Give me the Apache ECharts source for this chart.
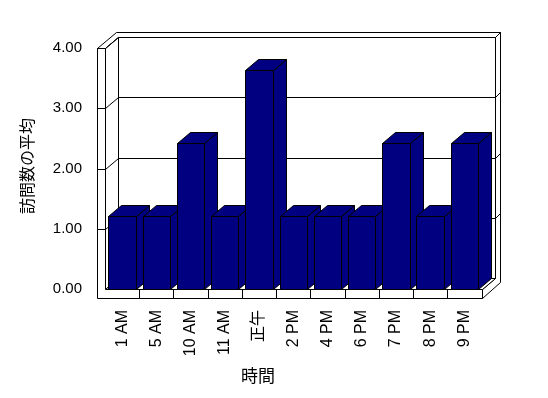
<!DOCTYPE html>
<html><head><meta charset="utf-8">
<script src="https://cdn.jsdelivr.net/npm/echarts@6/dist/echarts.min.js"></script>
<style>html,body{margin:0;padding:0;background:#fff}#c{width:548px;height:398px}</style>
</head><body><div id="c"></div>
<script>
const categories = ['1 AM','5 AM','10 AM','11 AM','正午','2 PM','4 PM','6 PM','7 PM','8 PM','9 PM'];
const values = [1.21,1.21,2.43,1.21,3.64,1.21,1.21,1.21,2.43,1.21,2.43];
const yTicks = [0,1,2,3,4];
const yTitle = '訪問数の平均';
const xTitle = '時間';

const DX = 13, DY = -11;      // depth projection
const W = 8, H = 9, TZ = 0.45; // wall thickness, floor thickness, back wall depth
const FONT = '"Liberation Sans", "Noto Sans CJK JP", sans-serif';
const BAR = '#000080';

function crisp(p){ return [Math.round(p[0]) + 0.5, Math.round(p[1]) + 0.5]; }
function proj(x, y, z){ return [x + z*DX, y + z*DY]; }
function face(pts, fill, z2){
  return {type:'polygon', z2: z2 || 0, shape:{points: pts.map(crisp)},
    style:{fill: fill || '#fff', stroke:'#000', lineWidth:1}};
}
function seg(a, b, z2){
  a = crisp(a); b = crisp(b);
  return {type:'line', z2: z2 || 0, shape:{x1:a[0], y1:a[1], x2:b[0], y2:b[1]},
    style:{stroke:'#000', lineWidth:1}};
}

function renderFrame(params, api){
  const cs = params.coordSys;
  const gx = cs.x, gr = cs.x + cs.width, gt = cs.y, gb = cs.y + cs.height;
  const band = api.size([1,0])[0];
  const ch = [];
  ch.push(face([proj(gx,gt,1), proj(gr,gt,1), proj(gr,gb,1), proj(gx,gb,1)], '#fff', 1));
  ch.push(face([proj(gx-W,gt,0), proj(gx,gt,0), proj(gx,gt,1), proj(gr,gt,1), proj(gr,gt,1+TZ), proj(gx-W,gt,1+TZ)], '#fff', 1));
  ch.push(face([proj(gr,gb,0), proj(gr,gb+H,0), proj(gr,gb+H,1+TZ), proj(gr,gt,1+TZ), proj(gr,gt,1), proj(gr,gb,1)], '#fff', 1));
  ch.push(face([proj(gx,gt,0), proj(gx,gt,1), proj(gx,gb,1), proj(gx,gb,0)], '#fff', 1));
  ch.push(face([proj(gx,gb,0), proj(gr,gb,0), proj(gr,gb,1), proj(gx,gb,1)], '#fff', 1));
  ch.push(face([[gx-W,gt],[gx,gt],[gx,gb],[gr,gb],[gr,gb+H],[gx-W,gb+H]], '#fff', 1));
  yTicks.forEach(function(v){
    if (v <= 0) return;
    const y = api.coord([0, v])[1];
    ch.push(seg([gx-W, y], [gx, y], 2));
    ch.push(seg(proj(gx,y,0), proj(gx,y,1), 2));
    ch.push(seg(proj(gx,y,1), proj(gr,y,1), 2));
    ch.push(seg(proj(gr,y,1), proj(gr,y,1+TZ), 2));
  });
  for (let i = 1; i < categories.length; i++){
    const x = gx + i*band;
    ch.push(seg([x, gb], [x, gb+H], 2));
  }
  return {type:'group', children: ch};
}

function renderBar(params, api){
  const i = api.value(0), v = api.value(1);
  const c = api.coord([i, v]);
  const b = api.coord([i, 0]);
  const band = api.size([1,0])[0];
  const bw = band * 0.8;
  const x0 = c[0] - bw/2, x1 = c[0] + bw/2, yt = c[1], yb = b[1];
  const base = 10 + i*4;
  return {type:'group', children:[
    face([proj(x1,yt,0), proj(x1,yt,1), proj(x1,yb,1), proj(x1,yb,0)], BAR, base),
    face([proj(x0,yt,0), proj(x1,yt,0), proj(x1,yt,1), proj(x0,yt,1)], BAR, base+1),
    face([[x0,yt],[x1,yt],[x1,yb],[x0,yb]], BAR, base+2)
  ]};
}

const chart = echarts.init(document.getElementById('c'), null, {renderer:'canvas'});
chart.setOption({
  animation: false,
  backgroundColor: '#fff',
  grid: {left:105, right:66.5, top:48, bottom:109},
  xAxis: {
    type:'category', data: categories,
    axisLine:{show:false}, axisTick:{show:false}, splitLine:{show:false},
    axisLabel:{rotate:90, margin:21, fontSize:16, color:'#000', fontFamily: FONT, interval:0}
  },
  yAxis: {
    type:'value', min:0, max:4, interval:1,
    axisLine:{show:false}, axisTick:{show:false}, splitLine:{show:false},
    axisLabel:{margin:23, fontSize:15, color:'#000', fontFamily: FONT,
      formatter: function(v){ return v.toFixed(2); }}
  },
  graphic: [
    {type:'text', x:258, y:376, style:{text:xTitle, fontSize:17, fontFamily:'"Noto Sans CJK JP"', fill:'#000', align:'center', verticalAlign:'middle'}},
    {type:'text', x:27, y:166, rotation: Math.PI/2, style:{text:yTitle, fontSize:16, fontFamily:'"Noto Sans CJK JP"', fill:'#000', align:'center', verticalAlign:'middle'}}
  ],
  series: [
    {type:'custom', name:'frame', z:1, silent:true, renderItem: renderFrame, data:[[0,0]], clip:false},
    {type:'custom', name:'訪問数の平均', z:2, renderItem: renderBar, clip:false,
      data: values.map(function(v, i){ return [i, v]; })}
  ]
});
</script>
</body></html>
